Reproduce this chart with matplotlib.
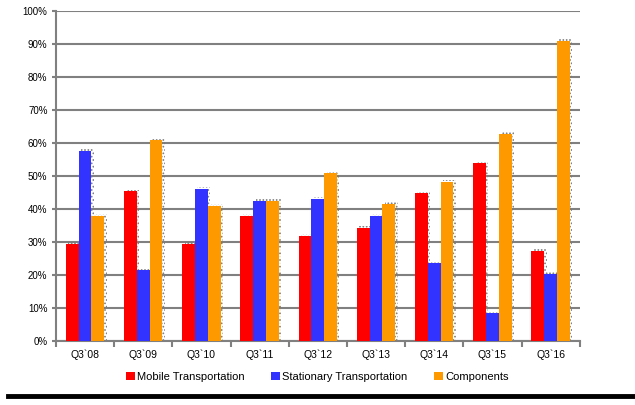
import numpy as np
import matplotlib
matplotlib.use("Agg")
import matplotlib.pyplot as plt
from matplotlib.ticker import FixedLocator

plt.rcParams['font.family'] = ['Liberation Sans', 'DejaVu Sans']
plt.rcParams['hatch.linewidth'] = 0.8

# data to plot
quarters = ["Q3`08", "Q3`09", "Q3`10", "Q3`11", "Q3`12", "Q3`13", "Q3`14", "Q3`15", "Q3`16"]
mobile = [29.5, 45.3, 29.5, 38.0, 31.7, 34.2, 44.7, 53.8, 27.4]
stationary = [57.5, 21.5, 46.0, 42.3, 43.0, 38.0, 23.5, 8.5, 20.2]
components = [38.0, 61.0, 41.0, 42.5, 51.0, 41.5, 48.3, 62.7, 91.0]
series_names = ["Mobile Transportation", "Stationary Transportation", "Components"]
colors = ["#FF0000", "#3333FF", "#FF9900"]

fig = plt.figure(figsize=(6.35, 4.05), dpi=100)
ax = fig.add_axes([0.088, 0.158, 0.825, 0.815])

index = np.arange(len(quarters))
bar_width = 0.22
offsets = [-bar_width, 0, bar_width]

for vals, off, col, name in zip([mobile, stationary, components], offsets, colors, series_names):
    # dotted shadow behind the bars
    ax.bar(index + off + 0.04, np.array(vals) + 0.6, bar_width, color='none',
           edgecolor='#777777', hatch='.....', linewidth=0, zorder=2)
    ax.bar(index + off, vals, bar_width, color=col, label=name, zorder=3)

ax.set_xlim(-0.5, len(quarters) - 0.5)
ax.set_ylim(0, 100)
ax.set_yticks(np.arange(0, 101, 10))
ax.set_yticklabels([f"{v}%" for v in range(0, 101, 10)], fontsize=7)
ax.set_xticks(index)
ax.set_xticklabels(quarters, fontsize=7.5)
ax.tick_params(axis='x', length=0, pad=6)
ax.xaxis.set_minor_locator(FixedLocator(np.arange(-0.5, len(quarters), 1.0)))
ax.tick_params(axis='x', which='minor', length=4, color='#808080', width=1.5)
ax.tick_params(axis='y', length=3, color='#808080', width=1.5, pad=3)

ax.grid(axis='y', color='#808080', linewidth=1.5, zorder=0)
ax.set_axisbelow(True)
for side in ['top', 'right']:
    ax.spines[side].set_visible(False)
for side in ['left', 'bottom']:
    ax.spines[side].set_color('#808080')
    ax.spines[side].set_linewidth(1.5)

fig.legend(loc='center', bbox_to_anchor=(0.5, 0.07), ncol=3, frameon=False,
           fontsize=8, handlelength=0.8, handleheight=0.8, handletextpad=0.2,
           columnspacing=2.4)

# thick black line at the bottom
fig.add_artist(plt.Line2D([0.012, 1.0], [0.022, 0.022], color='black', linewidth=3.5,
                          transform=fig.transFigure))

fig.savefig("out.png", dpi=100)
